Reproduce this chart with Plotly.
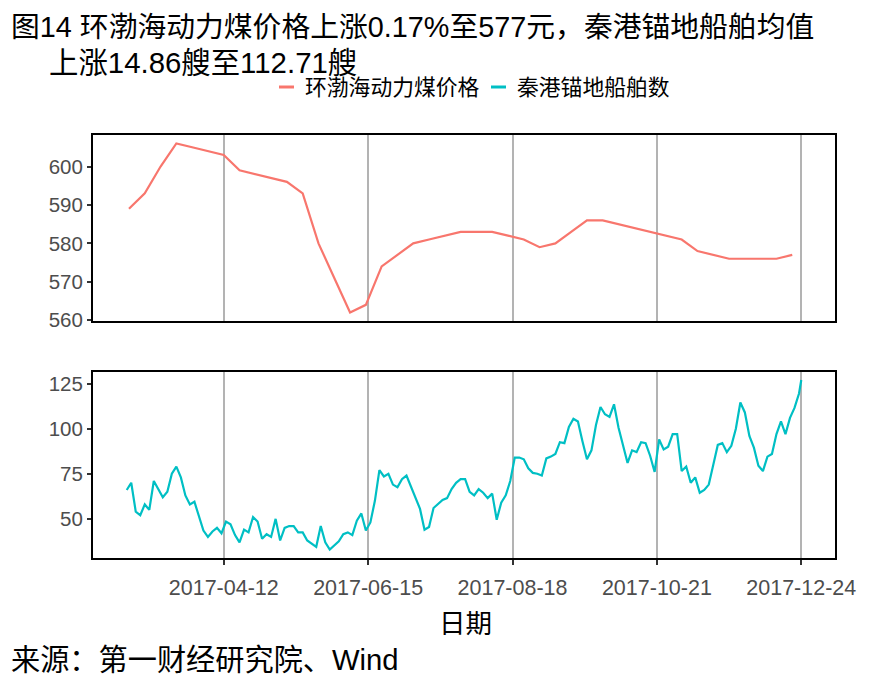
import pandas as pd
import plotly.graph_objects as go
from plotly.subplots import make_subplots

# ---------------- data ----------------
coal_start = "2017-03-01"
coal_price = [589, 593, 600, 606, 605, 604, 603, 599, 598, 597, 596, 593, 580, 571, 562,
              564, 574, 577, 580, 581, 582, 583, 583, 583, 582, 581, 579, 580, 583, 586,
              586, 585, 584, 583, 582, 581, 578, 577, 576, 576, 576, 576, 577]

ship_start = "2017-02-28"
ship_last_date = "2017-12-24"
ship_count = [
    66, 70, 54, 52, 58, 55, 71, 66.5, 62, 65, 75, 79, 73, 63, 58, 59.5, 51, 43.5, 40, 43, 45, 42, 48.5, 47, 41,
    37, 44, 42.5, 51, 48.5, 39, 41.5, 40, 50, 38, 45, 46, 46, 42.5, 42.5, 38, 36, 34.5, 46, 37, 33, 35.5, 37.5, 41.5, 42.5,
    41, 49, 53, 43.5, 48, 60, 77, 73.5, 75, 69, 67.5, 72, 74, 67.5, 62, 55.5, 44, 45.5, 56, 58, 60.5, 61.5, 66.5, 70, 72,
    72, 65, 63, 66.5, 64.5, 61.5, 64, 49.5, 59, 63, 71, 84, 84, 83, 78, 75.5, 75, 74, 83.5, 84.5, 86, 92.5, 92, 101, 105.5,
    104, 93, 83, 88, 102, 112, 108, 106.5, 113.5, 100.5, 90, 81, 88, 87, 92.5, 92, 85, 76, 94, 88.5, 90, 97, 97, 76.5, 79,
    70, 73, 64.5, 66, 69, 80, 91, 92, 87, 90.5, 100, 114.5, 109, 96, 89.5, 79.5, 76.5, 84.5, 86, 97, 104, 97, 106, 111.5, 119.5,
    127,
]

x_tick_dates = ["2017-04-12", "2017-06-15", "2017-08-18", "2017-10-21", "2017-12-24"]
coal_ticks = [560, 570, 580, 590, 600]
ship_ticks = [50, 75, 100, 125]

series_names = ["环渤海动力煤价格", "秦港锚地船舶数"]
title_line1 = "图14 环渤海动力煤价格上涨0.17%至577元，秦港锚地船舶均值"
title_line2 = "上涨14.86艘至112.71艘"
x_title = "日期"
source_text = "来源：第一财经研究院、Wind"

# ---------------- derived ----------------
coal_dates = pd.date_range(coal_start, periods=len(coal_price), freq="7D")
ship_dates = list(pd.date_range(ship_start, periods=len(ship_count) - 1, freq="2D")) + [pd.Timestamp(ship_last_date)]

x_min = min(min(coal_dates), min(ship_dates))
x_max = max(max(coal_dates), max(ship_dates))
span = x_max - x_min
x_range = [x_min - span * 0.05, x_max + span * 0.05]


def expand(vals, f=0.05):
    lo, hi = min(vals), max(vals)
    d = (hi - lo) * f
    return [lo - d, hi + d]


RED = "#F8766D"
TEAL = "#00BFC4"
FONT = "Liberation Sans, Noto Sans CJK SC, sans-serif"

# page body has an 8px margin; figure is sized so it fills the 885x688 window
OFF = 8
W, H = 885 - OFF, 688 - OFF
L = 93 - OFF
R = W - (835 - OFF)
T = 135 - OFF
B = H - (558 - OFF)
PW, PH = W - L - R, H - T - B


def px(x):  # reference window pixel -> paper x
    return (x - OFF - L) / PW


def py(y):  # reference window pixel -> paper y
    return (H - B - (y - OFF)) / PH


fig = make_subplots(rows=2, cols=1, shared_xaxes=False, vertical_spacing=0.118)

fig.add_trace(go.Scatter(x=coal_dates, y=coal_price, mode="lines", name=series_names[0],
                         line=dict(color=RED, width=2.2), showlegend=False), row=1, col=1)
fig.add_trace(go.Scatter(x=ship_dates, y=ship_count, mode="lines", name=series_names[1],
                         line=dict(color=TEAL, width=2.2), showlegend=False), row=2, col=1)

common_x = dict(type="date", range=x_range, tickvals=x_tick_dates, tickformat="%Y-%m-%d",
                showgrid=True, gridcolor="#B3B3B3", gridwidth=1.5,
                showline=True, linecolor="black", linewidth=2, mirror=True, zeroline=False)
fig.update_xaxes(**common_x, showticklabels=False, ticks="", row=1, col=1)
fig.update_xaxes(**common_x, showticklabels=True, ticks="outside", ticklen=5, tickwidth=2,
                 tickcolor="#333333", tickfont=dict(size=21.5, color="#4D4D4D", family=FONT),
                 ticklabelstandoff=4, row=2, col=1)

common_y = dict(showgrid=False, zeroline=False, showline=True, linecolor="black", linewidth=2,
                mirror=True, ticks="outside", ticklen=4, tickwidth=2, tickcolor="#333333",
                tickfont=dict(size=20.5, color="#4D4D4D", family=FONT), ticklabelstandoff=0)
fig.update_yaxes(**common_y, range=expand(coal_price), tickvals=coal_ticks, row=1, col=1)
fig.update_yaxes(**common_y, range=expand(ship_count), tickvals=ship_ticks, row=2, col=1)

fig.update_yaxes(domain=[py(321), 1.0], row=1, col=1)
fig.update_yaxes(domain=[0.0, py(371.5)], row=2, col=1)

annotations = [
    dict(text=title_line1, x=px(9), y=py(27), xanchor="left", yanchor="middle",
         font=dict(size=28.8, color="black", family=FONT)),
    dict(text=title_line2, x=px(47), y=py(62), xanchor="left", yanchor="middle",
         font=dict(size=29.4, color="black", family=FONT)),
    dict(text=series_names[0], x=px(303), y=py(87), xanchor="left", yanchor="middle",
         font=dict(size=21.8, color="black", family=FONT)),
    dict(text=series_names[1], x=px(515), y=py(87), xanchor="left", yanchor="middle",
         font=dict(size=21.8, color="black", family=FONT)),
    dict(text=x_title, x=px(465), y=py(624), xanchor="center", yanchor="middle",
         font=dict(size=26.5, color="black", family=FONT)),
    dict(text=source_text, x=px(9), y=py(660), xanchor="left", yanchor="middle",
         font=dict(size=29.2, color="black", family=FONT)),
]
for a in annotations:
    a.update(xref="paper", yref="paper", showarrow=False)

shapes = [
    dict(type="line", xref="paper", yref="paper", x0=px(279), x1=px(294), y0=py(87), y1=py(87),
         line=dict(color=RED, width=3)),
    dict(type="line", xref="paper", yref="paper", x0=px(491), x1=px(506), y0=py(87), y1=py(87),
         line=dict(color=TEAL, width=3)),
]

fig.update_layout(width=W, height=H, margin=dict(l=L, r=R, t=T, b=B),
                  paper_bgcolor="white", plot_bgcolor="white",
                  annotations=annotations, shapes=shapes, showlegend=False,
                  font=dict(family=FONT))

fig.write_html("out.html")
